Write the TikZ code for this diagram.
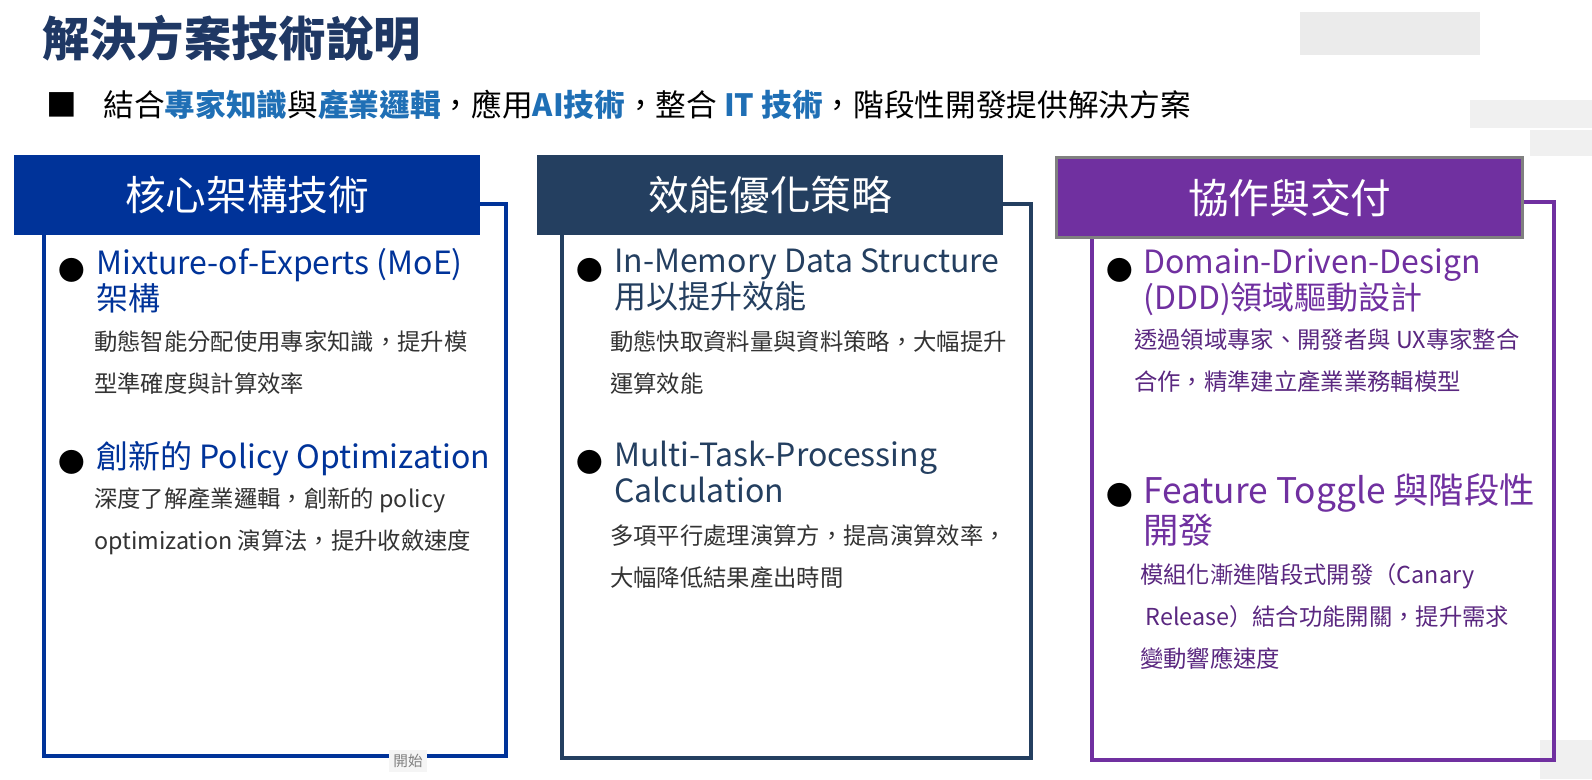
\documentclass[tikz,border=0pt]{standalone}
\usepackage{fontspec}
\setmainfont{Noto Sans CJK TC}
\begin{document}
\begin{tikzpicture}[x=0.75pt,y=-0.75pt,
  hdr/.style={anchor=north west,minimum width=466*0.75pt,minimum height=80*0.75pt,text=white,font=\fontsize{30.5}{33}\selectfont,inner sep=0pt},
  frame/.style={line width=3.5pt},
  bul/.style={anchor=north west,inner sep=0pt,align=left,font=\fontsize{24}{27}\selectfont},
  body/.style={anchor=north west,inner sep=0pt,align=left,text=black!80,font=\fontsize{17.5}{31.5}\selectfont},
  dot/.style={anchor=north west,inner sep=0pt,font=\fontsize{20}{24}\selectfont}]
\definecolor{c1}{HTML}{003399}
\definecolor{c2}{HTML}{243F60}
\definecolor{c3}{HTML}{7030A0}
\definecolor{tt}{HTML}{1F3864}
\definecolor{hl}{HTML}{1F6FB5}
\useasboundingbox (0,0) rectangle (1592,779);
\fill[white] (0,0) rectangle (1592,779);
% decorative shadows
\fill[black!8] (1300,12) rectangle (1480,55);
\fill[black!6] (1470,100) rectangle (1592,128);
\fill[black!6] (1530,130) rectangle (1592,156);
\fill[black!6] (1540,740) rectangle (1592,779);
\node[anchor=west,inner sep=0pt,text=tt,font=\fontsize{35.5}{38}\selectfont\bfseries] (title) at (42,38) {解決方案技術說明};
\node[anchor=west,inner sep=0pt,font=\fontsize{23}{26}\selectfont] (sub) at (46,105) {■\hspace{20pt}結合\textcolor{hl}{\bfseries 專家知識}與\textcolor{hl}{\bfseries 產業邏輯}，應用\textcolor{hl}{\bfseries AI技術}，整合 \textcolor{hl}{\bfseries IT 技術}，階段性開發提供解決方案};
% panel 1
\draw[frame,c1] (44,204) rectangle (506,756);
\node[hdr,fill=c1] (h1) at (14,155) {核心架構技術};
\node[dot] (d1) at (58,258) {●};
\node[bul,text=c1] (t1) at (96,248) {Mixture-of-Experts (MoE)\\架構};
\node[body] (b1) at (94,330) {動態智能分配使用專家知識，提升模\\型準確度與計算效率};
\node[dot] (d2) at (58,450) {●};
\node[bul,text=c1] (t2) at (96,441) {創新的 Policy Optimization};
\node[body] (b2) at (94,487) {深度了解產業邏輯，創新的 policy\\optimization 演算法，提升收斂速度};
% panel 2
\draw[frame,c2] (562,204) rectangle (1031,758);
\node[hdr,fill=c2] (h2) at (537,155) {效能優化策略};
\node[dot] (d3) at (576,258) {●};
\node[bul,text=c2] (t3) at (614,248) {In-Memory Data Structure\\用以提升效能};
\node[body] (b3) at (610,330) {動態快取資料量與資料策略，大幅提升\\運算效能};
\node[dot] (d4) at (576,450) {●};
\node[bul,text=c2] (t4) at (614,441) {Multi-Task-Processing\\Calculation};
\node[body] (b4) at (610,524) {多項平行處理演算方，提高演算效率，\\大幅降低結果產出時間};
% panel 3
\draw[frame,c3] (1092,202) rectangle (1554,760);
\node[hdr,fill=c3,draw=black!50,line width=2.5pt] (h3) at (1055,156) {協作與交付};
\node[dot] (d5) at (1106,258) {●};
\node[bul,text=c3] (t5) at (1143,248) {Domain-Driven-Design\\(DDD)領域驅動設計};
\node[body,text=c3!80!black] (b5) at (1134,328) {透過領域專家、開發者與 UX專家整合\\合作，精準建立產業業務輯模型};
\node[dot] (d6) at (1106,483) {●};
\node[bul,text=c3,font=\fontsize{26.5}{30}\selectfont] (t6) at (1143,473) {Feature Toggle 與階段性\\開發};
\node[body,text=c3!80!black] (b6) at (1140,563) {模組化漸進階段式開發（Canary\\\ Release）結合功能開關，提升需求\\變動響應速度};
% small label
\node[anchor=north,fill=black!4,text=black!50,font=\fontsize{11}{12}\selectfont,inner sep=3pt] (start) at (408,750) {開始};
\end{tikzpicture}
\end{document}
